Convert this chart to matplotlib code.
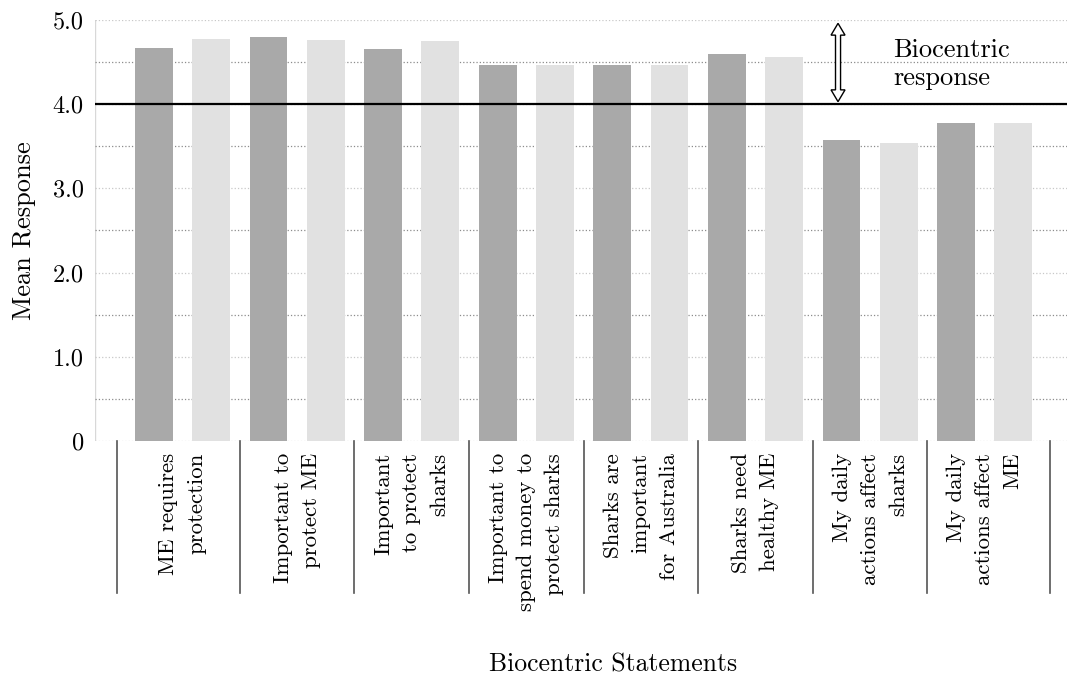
import numpy as np
import matplotlib.pyplot as plt
from matplotlib.patches import Polygon

plt.rcParams["font.family"] = ["cmr10", "DejaVu Serif"]
plt.rcParams["axes.formatter.use_mathtext"] = True

statements = [
    "ME requires\nprotection",
    "Important to\nprotect ME",
    "Important\nto protect\nsharks",
    "Important to\nspend money to\nprotect sharks",
    "Sharks are\nimportant\nfor Australia",
    "Sharks need\nhealthy ME",
    "My daily\nactions affect\nsharks",
    "My daily\nactions affect\nME",
]
dark_means = [4.67, 4.80, 4.66, 4.47, 4.47, 4.60, 3.57, 3.78]
light_means = [4.77, 4.76, 4.75, 4.46, 4.46, 4.56, 3.54, 3.78]
threshold = 4.0
y_ticks = [0, 1, 2, 3, 4, 5]
y_ticklabels = ["0", "1.0", "2.0", "3.0", "4.0", "5.0"]

fig = plt.figure(figsize=(10.67, 6.75), dpi=100)
ax = fig.add_axes([0.089, 0.3467, 0.911, 0.6237])

x = np.arange(len(statements))
ax.bar(x - 0.25, dark_means, width=0.33, color="#a9a9a9", zorder=2)
ax.bar(x + 0.25, light_means, width=0.33, color="#e1e1e1", zorder=2)
ax.axhline(threshold, color="black", lw=1.6, zorder=3)

ax.set_xlim(-0.764, 7.718)
ax.set_ylim(0, 5)
ax.set_yticks(y_ticks)
ax.set_yticklabels(y_ticklabels, fontsize=17.5)
ax.set_yticks(np.arange(0.5, 5, 1), minor=True)
ax.set_xticks([])
ax.tick_params(axis="y", which="both", length=0, pad=8)
ax.grid(axis="y", which="major", ls=":", color="#c8c8c8", lw=0.9, zorder=0)
ax.grid(axis="y", which="minor", ls=":", color="#8c8c8c", lw=0.9, zorder=0)
for s in ax.spines.values():
    s.set_visible(False)
ax.axvline(-0.764, color="#d8d8d8", lw=1.0, zorder=1)

ax.set_ylabel("Mean Response", fontsize=19, labelpad=12)

# group separators below the axis
bounds = np.arange(len(statements) + 1) - 0.5
bounds[0], bounds[-1] = -0.57, 7.57
trans = ax.get_xaxis_transform()
for b in bounds:
    ax.plot([b, b], [0, -0.361], transform=trans, color="#555555", lw=1.2,
            clip_on=False)

for xi, lab in zip(x, statements):
    ax.text(xi, -0.028, lab, transform=trans, rotation=90, ha="center",
            va="top", multialignment="right", fontsize=16.5, linespacing=1.55)

fig.text(0.575, 0.015, "Biocentric Statements", ha="center", va="center",
         fontsize=18.5)

# hollow double arrow marking the biocentric band
ax_x, y0, y1 = 5.72, 4.03, 4.96
hw, sw, hl = 0.061, 0.022, 0.14
arrow = Polygon([
    (ax_x, y1), (ax_x + hw, y1 - hl), (ax_x + sw, y1 - hl),
    (ax_x + sw, y0 + hl), (ax_x + hw, y0 + hl), (ax_x, y0),
    (ax_x - hw, y0 + hl), (ax_x - sw, y0 + hl), (ax_x - sw, y1 - hl),
    (ax_x - hw, y1 - hl)], closed=True, fc="white", ec="black", lw=1.0,
    zorder=4)
ax.add_patch(arrow)
ax.text(0.821, 0.895, "Biocentric\nresponse", transform=ax.transAxes,
        ha="left", va="center", fontsize=19, linespacing=1.2, zorder=4)

fig.savefig("out.png", dpi=100)
